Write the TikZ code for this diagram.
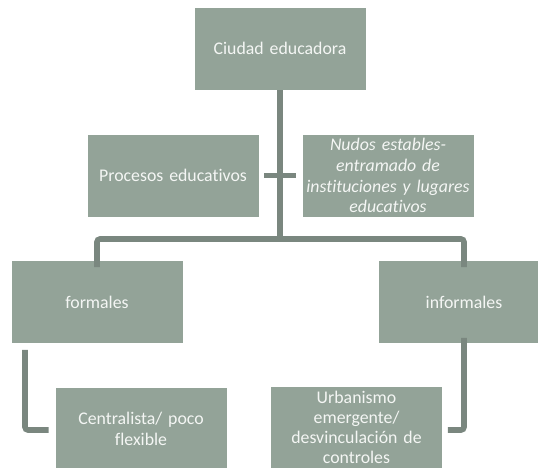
\documentclass[tikz,border=0pt]{standalone}
\usepackage{fontspec}
\setmainfont{Carlito}[Ligatures=NoCommon,WordSpace=0.85]
\definecolor{boxfill}{HTML}{93A398}
\definecolor{linecol}{HTML}{7A877F}
\definecolor{txtcol}{HTML}{F4F6F4}
\begin{document}
\begin{tikzpicture}[x=1pt,y=-1pt,
  box/.style={fill=boxfill, draw=white, line width=0.6pt, minimum width=172pt, minimum height=83pt,
    inner sep=1pt, text=txtcol, align=center, font=\fontsize{17.8}{20.8}\selectfont, text width=170pt},
  conn/.style={draw=linecol, line width=5.6pt, rounded corners=3pt}]
\useasboundingbox (0,0) rectangle (538,467);
\clip (0,0) rectangle (538,467);
\node[box] (top) at (280,48.5) {Ciudad educadora};
\node[box] (proc) at (173,175.5) {Procesos educativos};
\node[box] (nudos) at (388,175.5) {\itshape Nudos estables-\\entramado de\\instituciones y lugares\\educativos};
\node[box] (form) at (97,302) {formales};
\node[box] (inform) at (464,302) {informales};
\node[box] (cent) at (141,429) {Centralista/ poco\\flexible};
\node[box, font=\fontsize{17.8}{20.2}\selectfont] (urb) at (356.5,427.5) {Urbanismo\\emergente/\\desvinculación de\\controles};
\coordinate (hb) at (280,239);
\coordinate (lb) at (25,430);
\coordinate (rb) at (464,430);
% vertical trunk
\draw[conn] (top.south) -- (hb);
% crossbar
\draw[conn] ([xshift=5pt]proc.east) -- ([xshift=-6pt]nudos.west);
% horizontal bar with drops
\draw[conn] ([yshift=-7pt]form.north) |- (hb) -| ([yshift=-7pt]inform.north);
% left bracket
\draw[conn] (form.south -| lb) ++(0,6) -- (lb) -- ([xshift=-6pt]cent.west |- lb);
% right bracket
\draw[conn] ([yshift=6pt]inform.south) -- (rb) -- ([xshift=5pt]urb.east |- rb);
\end{tikzpicture}
\end{document}
